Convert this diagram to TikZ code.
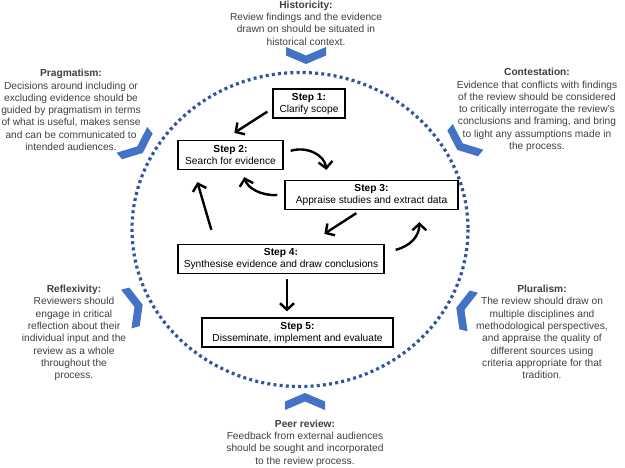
\documentclass[tikz,border=0pt]{standalone}
\usepackage{fontspec}
\setmainfont{Liberation Sans}
\usetikzlibrary{arrows.meta,calc}
\definecolor{dotblue}{RGB}{47,85,160}
\definecolor{chevblue}{RGB}{68,114,196}
\definecolor{txtgray}{RGB}{64,64,64}
\tikzset{
 stepbox/.style={draw=black,line width=1.3pt,minimum width=#1,minimum height=29pt,inner sep=0pt,align=center,font=\fontsize{10.2}{12}\selectfont},
 note/.style={align=center,text=txtgray,inner sep=0pt,font=\fontsize{10.2}{12.3}\selectfont},
 arr/.style={line width=2.4pt,-{Straight Barb[length=6.5pt,width=14pt]}},
 chevpic/.pic={\fill[chevblue] (-20,-8) -- (0,0.5) -- (20,-8) -- (20,0.5) -- (0,9) -- (-20,0.5) -- cycle;}
}
\begin{document}
\begin{tikzpicture}[x=1pt,y=-1pt]
\useasboundingbox (0,0) rectangle (625,468);
\fill[white] (0,0) rectangle (625,468);
% dotted circle
\draw[dotblue,line width=3.2pt,dash pattern=on 3pt off 3.2pt] (300,229.5) ellipse [x radius=168,y radius=157];
% chevrons
\pic[rotate=0] at (306,55) {chevpic};
\pic[rotate=180] at (305,402) {chevpic};
\pic[rotate=40] at (137,146) {chevpic};
\pic[rotate=-40] at (463,143) {chevpic};
\pic[rotate=105] at (134,307) {chevpic};
\pic[rotate=-105] at (465,310) {chevpic};
% step boxes
\node[stepbox=72pt] (s1) at (309,103.5) {\textbf{Step 1:}\\Clarify scope};
\node[stepbox=105pt] (s2) at (230.5,155) {\textbf{Step 2:}\\Search for evidence};
\node[stepbox=173pt] (s3) at (371.5,195) {\textbf{Step 3:}\\Appraise studies and extract data};
\node[stepbox=206pt] (s4) at (281,259) {\textbf{Step 4:}\\Synthesise evidence and draw conclusions};
\node[stepbox=191pt] (s5) at (297.5,332.5) {\textbf{Step 5:}\\Disseminate, implement and evaluate};
% arrows
\draw[arr] ($(s1.south west)+(-5,-7)$) -- ($(s2.north west)+(57,-7)$);
\draw[arr] ($(s2.north east)+(7,11)$) .. controls ($(s2.north east)+(23,6)$) and ($(s2.north east)+(41,15)$) .. ($(s3.north west)+(42,-10)$);
\draw[arr] ($(s3.west)+(-7,0)$) .. controls ($(s3.west)+(-23,1)$) and ($(s2.south west)+(70,18)$) .. ($(s2.south west)+(67,7)$);
\draw[arr] ($(s3.south west)+(72,3)$) -- ($(s4.north west)+(147,-10)$);
\draw[arr] ($(s4.north east)+(11,6)$) .. controls ($(s4.north east)+(26,2)$) and ($(s3.south west)+(135,26)$) .. ($(s3.south west)+(135,12)$);
\draw[arr] ($(s4.north west)+(34,-14)$) -- ($(s2.south west)+(20,12)$);
\draw[arr] ($(s4.south)+(6,5)$) -- ($(s5.north)+(-10.5,-6)$);
% notes
\node[note] (hist) at (306,23) {\textbf{Historicity:}\\Review findings and the evidence\\drawn on should be situated in\\historical context.};
\node[note] (prag) at (71,110) {\textbf{Pragmatism:}\\Decisions around including or\\excluding evidence should be\\guided by pragmatism in terms\\of what is useful, makes sense\\and can be communicated to\\intended audiences.};
\node[note] (cont) at (537,110) {\textbf{Contestation:}\\Evidence that conflicts with findings\\of the review should be considered\\to critically interrogate the review's\\conclusions and framing, and bring\\to light any assumptions made in\\the process.};
\node[note] (refl) at (74,333) {\textbf{Reflexivity:}\\Reviewers should\\engage in critical\\reflection about their\\individual input and the\\review as a whole\\throughout the\\process.};
\node[note] (plur) at (542,332) {\textbf{Pluralism:}\\The review should draw on\\multiple disciplines and\\methodological perspectives,\\and appraise the quality of\\different sources using\\criteria appropriate for that\\tradition.};
\node[note] (peer) at (305,443) {\textbf{Peer review:}\\Feedback from external audiences\\should be sought and incorporated\\to the review process.};
\end{tikzpicture}
\end{document}
